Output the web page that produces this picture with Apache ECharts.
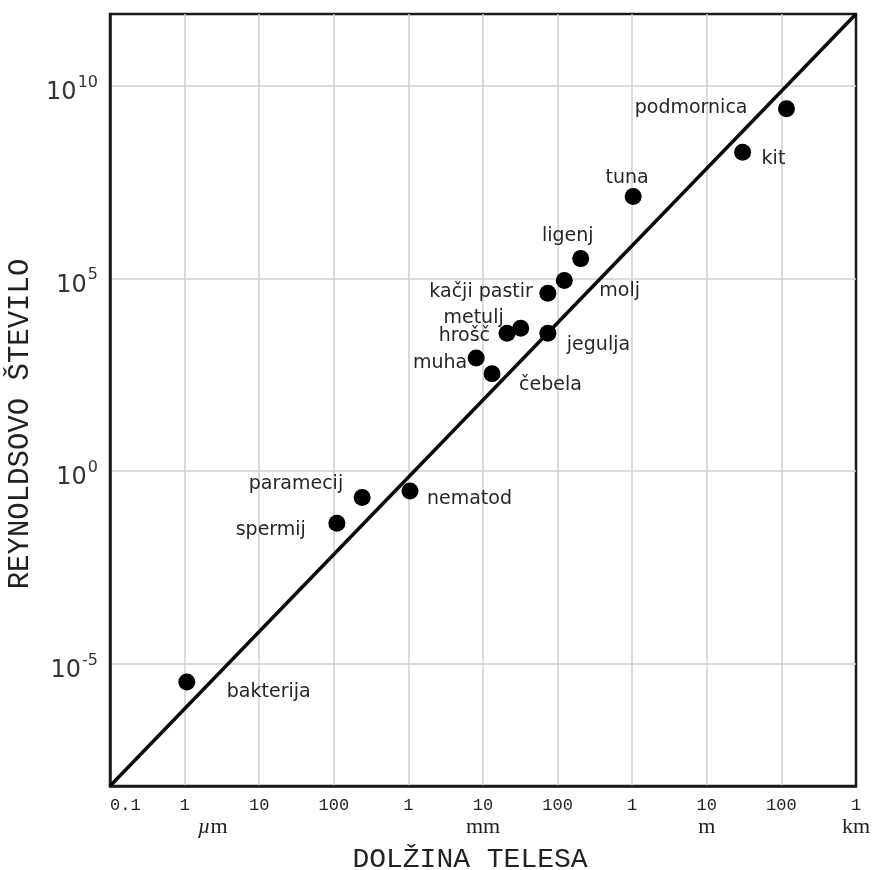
<!DOCTYPE html>
<html>
<head>
<meta charset="utf-8">
<script src="https://cdn.jsdelivr.net/npm/echarts@6/dist/echarts.min.js"></script>
<style>
html,body{margin:0;padding:0;background:#fff;}
#chart{width:874px;height:870px;}
</style>
</head>
<body>
<div id="chart"></div>
<script>
// ---- data (lengths in metres, Reynolds numbers) ----
const organisms = ['bakterija','spermij','paramecij','nematod','muha','čebela','hrošč','metulj','jegulja','kačji pastir','molj','ligenj','tuna','kit','podmornica'];
const bodyLength = [1.07e-6, 1.1e-4, 2.4e-4, 1.05e-3, 8.1e-3, 1.32e-2, 2.1e-2, 3.2e-2, 7.4e-2, 7.4e-2, 0.123, 0.204, 1.03, 30.2, 117];
const reynolds = [3.3e-6, 0.044, 0.204, 0.30, 851, 331, 3715, 5012, 3715, 40738, 87096, 323594, 1.32e7, 1.86e8, 2.5e9];
// trend line (corner to corner of the plot)
const trendLength = [1e-7, 1e3];
const trendRe = [Math.pow(10, -8.18), Math.pow(10, 11.86)];
// axis tick labels
const xTickLabels = ['0.1','1','10','100','1','10','100','1','10','100','1'];
const xUnits = {'-6':'µm', '-2':'mm', '1':'m', '3':'km'};
const yTickExponents = [-5, 0, 5, 10];

// ---- label placement (style, not data) ----
const labelPlace = [
  {align:'left',  dx:40,  dy:10},
  {align:'right', dx:-31, dy:7},
  {align:'right', dx:-19, dy:-13},
  {align:'left',  dx:17,  dy:8},
  {align:'right', dx:-9,  dy:5},
  {align:'left',  dx:27,  dy:11},
  {align:'right', dx:-17, dy:3},
  {align:'right', dx:-17, dy:-10},
  {align:'left',  dx:19,  dy:12},
  {align:'right', dx:-15, dy:-1},
  {align:'left',  dx:35,  dy:10},
  {align:'center',dx:-13, dy:-23},
  {align:'center',dx:-6,  dy:-19},
  {align:'left',  dx:19,  dy:7},
  {align:'right', dx:-39, dy:-1}
];

const lg = Math.log10;
const xMin = lg(trendLength[0]), xMax = lg(trendLength[1]);
const yMin = lg(trendRe[0]), yMax = lg(trendRe[1]);

const scatterData = organisms.map((n, i) => ({
  name: n,
  value: [lg(bodyLength[i]), lg(reynolds[i])],
  label: {
    show: true,
    position: 'inside',
    align: labelPlace[i].align,
    verticalAlign: 'middle',
    offset: [labelPlace[i].dx, labelPlace[i].dy]
  }
}));

const chart = echarts.init(document.getElementById('chart'), null, {renderer:'canvas'});
chart.setOption({
  animation: false,
  backgroundColor: '#fff',
  grid: {left:110, right:18, top:14, bottom:84, outerBoundsMode:'none', containLabel:false,
         show:true, borderColor:'#1a1a1a', borderWidth:2.5, backgroundColor:'transparent'},
  xAxis: {
    type:'value', min:xMin, max:xMax, interval:1,
    axisLine:{show:true, onZero:false, lineStyle:{color:'#1a1a1a', width:2.5}},
    axisTick:{show:false},
    splitLine:{show:true, showMinLine:false, showMaxLine:false, lineStyle:{color:'#cfcfcf', width:1.5}},
    axisLabel:{
      margin:8, alignMinLabel:'left',
      fontFamily:'Liberation Mono', fontSize:17, color:'#222', lineHeight:22,
      formatter: function(v){
        const k = Math.round(v);
        const t = xTickLabels[k - xMin];
        const u = xUnits[String(k)];
        if (!u) return t;
        if (u === 'µm') return t + '\n{pad|}{ui|µ}{u|m}';
        return t + '\n{u|' + u + '}';
      },
      rich:{
        u:{fontFamily:'Liberation Serif', fontSize:22, color:'#222', lineHeight:22},
        ui:{fontFamily:'Liberation Serif', fontStyle:'italic', fontSize:22, color:'#222', lineHeight:22},
        pad:{width:56, lineHeight:22}
      }
    },
    name:'DOLŽINA TELESA', nameLocation:'middle', nameGap:60,
    nameTextStyle:{fontFamily:'Liberation Mono', fontSize:28, color:'#222', padding:[0,26,0,0]}
  },
  yAxis: {
    type:'value', min:yMin, max:yMax,
    axisLine:{show:true, onZero:false, lineStyle:{color:'#1a1a1a', width:2.5}},
    axisTick:{show:false, customValues:yTickExponents},
    splitLine:{show:true, lineStyle:{color:'#cfcfcf', width:1.5}},
    axisLabel:{
      customValues:yTickExponents, margin:12,
      formatter: function(v){ return '{b|10}{s|' + Math.round(v) + '}'; },
      rich:{
        b:{fontFamily:'DejaVu Sans', fontSize:24, color:'#333', padding:[14,0,0,0]},
        s:{fontFamily:'DejaVu Sans', fontSize:16, color:'#333', padding:[0,0,6,1]}
      }
    },
    name:'REYNOLDSOVO ŠTEVILO', nameLocation:'middle', nameGap:72, nameRotate:90,
    nameTextStyle:{fontFamily:'Liberation Mono', fontSize:29, color:'#222', padding:[0,48,0,0]}
  },
  series: [
    {
      type:'line', data: trendLength.map((l,i)=>[lg(l), lg(trendRe[i])]),
      symbol:'none', lineStyle:{color:'#0a0a0a', width:3.5}, z:2, silent:true
    },
    {
      type:'scatter', data: scatterData, symbol:'circle', symbolSize:17,
      itemStyle:{color:'#000', opacity:1}, z:3,
      label:{fontFamily:'DejaVu Sans', fontSize:19, color:'#262626', formatter:'{b}'}
    }
  ]
});
</script>
</body>
</html>
